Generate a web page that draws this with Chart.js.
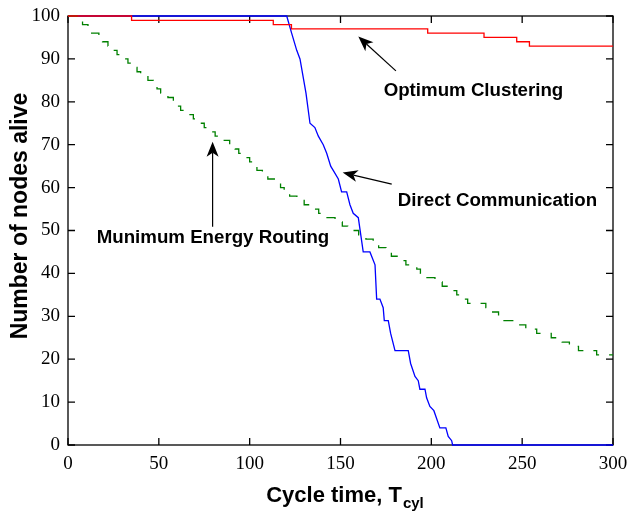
<!DOCTYPE html>
<html>
<head>
<meta charset="utf-8">
<script src="https://cdn.jsdelivr.net/npm/chart.js@4.4.1/dist/chart.umd.min.js"></script>
<style>
  html, body { margin: 0; padding: 0; background: #fff; }
  #wrap { width: 627px; height: 512px; position: relative; }
</style>
</head>
<body>
<div id="wrap"><canvas id="nodes"></canvas></div>
<script>
// tick labels
var xTicks = [0, 50, 100, 150, 200, 250, 300];
var yTicks = [0, 10, 20, 30, 40, 50, 60, 70, 80, 90, 100];

// Optimum Clustering (step: time where count drops, new count)
var redX = [0, 35, 113, 123, 198, 229, 247, 254, 300];
var redY = [100, 99, 98, 97, 96, 95, 94, 93, 93];

// Direct Communication
var blueX = [0, 120.4, 123.1, 125.9, 127.7, 131, 133.2, 135.9, 137.8, 140.5, 142.4, 144.6, 146, 148.8, 150.6, 153.4,
    155.2, 157, 159.8, 162.5, 166.2, 169, 169.9, 171.7, 173.5, 174.1, 176.3, 177.6, 180, 187.3, 188.6, 191,
    192.8, 193.7, 196.5, 197.4, 199.2, 201.4, 204.7, 208, 209.3, 211.2, 211.7, 300];
var blueY = [100, 100, 96, 92, 90, 82, 75, 74, 72, 70, 68, 65, 64, 62, 59, 59,
    56, 54, 53, 45, 45, 42, 34, 34, 32, 29, 29, 26, 22, 22, 19, 16,
    15, 13, 13, 11, 9, 8, 4, 4, 2, 1, 0, 0];

// Munimum Energy Routing (step)
var greenX = [0, 5, 8, 11, 13, 17, 19, 22, 24, 27, 29, 33, 35, 38, 40, 44, 47, 49, 51, 55, 58, 60, 62, 66, 69, 71,
    75, 78, 81, 84, 89, 92, 94, 97, 100, 102, 104, 107, 110, 114, 117, 119, 122, 126, 130, 134, 138, 142,
    147, 151, 154, 160, 164, 168, 171, 175, 178, 182, 186, 192, 194, 197, 202, 206, 210, 214, 216, 220,
    230, 233, 237, 240, 248, 252, 258, 266, 272, 276, 281, 291, 300];
var greenY = [100, 99, 98, 97, 96, 95, 94, 93, 92, 91, 90, 89, 88, 87, 86, 85, 84, 83, 82, 81, 80, 79, 78, 77, 76, 75,
    74, 73, 72, 71, 70, 69, 68, 67, 66, 65, 64, 63, 62, 61, 60, 59, 58, 57, 56, 55, 54, 53,
    52, 51, 50, 49, 48, 47, 46, 45, 44, 43, 42, 41, 40, 39, 38, 37, 36, 35, 34, 33,
    32, 31, 30, 29, 28, 27, 26, 25, 24, 23, 22, 21, 21];

// labels with arrows: text position, arrow tail, arrow tip (data units)
var notes = [
    {text: 'Optimum Clustering', tx: 223.2, ty: 82.6, ax: 180.5, ay: 87.2, bx: 159.8, by: 95.2},
    {text: 'Direct Communication', tx: 236.4, ty: 57.0, ax: 178.2, ay: 60.8, bx: 151.2, by: 63.5},
    {text: 'Munimum Energy Routing', tx: 79.8, ty: 48.4, ax: 79.6, ay: 50.9, bx: 79.6, by: 70.7}
];

function toPoints(xs, ys) {
    var pts = [];
    for (var i = 0; i < xs.length; i++) {
        pts.push({x: xs[i], y: ys[i]});
    }
    return pts;
}

function drawArrow(ctx, x1, y1, x2, y2) {
    var ang = Math.atan2(y2 - y1, x2 - x1);
    var len = 15, half = 6, notch = 11;
    ctx.save();
    ctx.strokeStyle = '#000';
    ctx.fillStyle = '#000';
    ctx.lineWidth = 1.2;
    ctx.beginPath();
    ctx.moveTo(x1, y1);
    ctx.lineTo(x2 - Math.cos(ang) * notch, y2 - Math.sin(ang) * notch);
    ctx.stroke();
    ctx.translate(x2, y2);
    ctx.rotate(ang);
    ctx.beginPath();
    ctx.moveTo(0, 0);
    ctx.lineTo(-len, -half);
    ctx.lineTo(-notch, 0);
    ctx.lineTo(-len, half);
    ctx.closePath();
    ctx.fill();
    ctx.restore();
}

// frame + inward ticks on all four sides, under the lines
var framePlugin = {
    id: 'frame',
    beforeDatasetsDraw: function (chart) {
        var ctx = chart.ctx, a = chart.chartArea;
        var xs = chart.scales.x, ys = chart.scales.y;
        var tl = 7;
        ctx.save();
        ctx.strokeStyle = '#000';
        ctx.lineWidth = 1.3;
        ctx.strokeRect(a.left, a.top, a.right - a.left, a.bottom - a.top);
        ctx.beginPath();
        xTicks.forEach(function (v) {
            var px = xs.getPixelForValue(v);
            ctx.moveTo(px, a.bottom); ctx.lineTo(px, a.bottom - tl);
            ctx.moveTo(px, a.top); ctx.lineTo(px, a.top + tl);
        });
        yTicks.forEach(function (v) {
            var py = ys.getPixelForValue(v);
            ctx.moveTo(a.left, py); ctx.lineTo(a.left + tl, py);
            ctx.moveTo(a.right, py); ctx.lineTo(a.right - tl, py);
        });
        ctx.stroke();
        ctx.restore();
    },
    afterDraw: function (chart) {
        var ctx = chart.ctx, a = chart.chartArea;
        var xs = chart.scales.x, ys = chart.scales.y;
        ctx.save();
        ctx.fillStyle = '#000';
        ctx.textBaseline = 'middle';
        ctx.textAlign = 'center';
        ctx.font = 'bold 18.7px "Liberation Sans", Arial, sans-serif';
        notes.forEach(function (n) {
            ctx.fillText(n.text, xs.getPixelForValue(n.tx), ys.getPixelForValue(n.ty));
            drawArrow(ctx, xs.getPixelForValue(n.ax), ys.getPixelForValue(n.ay),
                xs.getPixelForValue(n.bx), ys.getPixelForValue(n.by));
        });

        // x title with subscript
        var main = 'Cycle time, T', sub = 'cyl';
        ctx.font = 'bold 22px "Liberation Sans", Arial, sans-serif';
        var w1 = ctx.measureText(main).width;
        ctx.font = 'bold 15px "Liberation Sans", Arial, sans-serif';
        var w2 = ctx.measureText(sub).width;
        var x0 = (a.left + a.right) / 2 - (w1 + w2) / 2 + 4;
        var base = 502;
        ctx.textAlign = 'left';
        ctx.textBaseline = 'alphabetic';
        ctx.font = 'bold 22px "Liberation Sans", Arial, sans-serif';
        ctx.fillText(main, x0, base);
        ctx.font = 'bold 15px "Liberation Sans", Arial, sans-serif';
        ctx.fillText(sub, x0 + w1 + 1, base + 6);

        // y title
        ctx.translate(21, 216);
        ctx.rotate(-Math.PI / 2);
        ctx.textAlign = 'center';
        ctx.textBaseline = 'middle';
        ctx.font = 'bold 23px "Liberation Sans", Arial, sans-serif';
        ctx.fillText('Number of nodes alive', 0, 0);
        ctx.restore();
    }
};

var lineChart = new Chart(document.getElementById('nodes').getContext('2d'), {
    type: 'line',
    data: {
        datasets: [
            {
                label: 'Optimum Clustering',
                data: toPoints(redX, redY),
                borderColor: '#ff0000',
                borderWidth: 1.3,
                stepped: true,
                pointRadius: 0,
                fill: false,
                clip: false
            },
            {
                label: 'Munimum Energy Routing',
                data: toPoints(greenX, greenY),
                borderColor: '#008000',
                borderWidth: 1.3,
                borderDash: [10, 10],
                stepped: true,
                pointRadius: 0,
                fill: false,
                clip: false
            },
            {
                label: 'Direct Communication',
                data: toPoints(blueX, blueY),
                borderColor: '#0000ff',
                borderWidth: 1.3,
                tension: 0,
                pointRadius: 0,
                fill: false,
                clip: false
            }
        ]
    },
    options: {
        responsive: true,
        maintainAspectRatio: false,
        animation: false,
        events: [],
        layout: {padding: {left: 0, right: 14, top: 16, bottom: 0}},
        plugins: {
            legend: {display: false},
            tooltip: {enabled: false}
        },
        scales: {
            x: {
                type: 'linear',
                min: 0,
                max: 300,
                afterFit: function (scale) {
                    scale.height = 67;
                    scale.paddingLeft = 0;
                    scale.paddingRight = 0;
                },
                afterBuildTicks: function (scale) {
                    scale.ticks = xTicks.map(function (v) { return {value: v}; });
                },
                grid: {display: false, drawTicks: false},
                border: {display: false},
                ticks: {
                    padding: 8,
                    color: '#000',
                    maxRotation: 0,
                    font: {family: '"Liberation Serif", "Times New Roman", serif', size: 19}
                }
            },
            y: {
                type: 'linear',
                min: 0,
                max: 100,
                afterFit: function (scale) {
                    scale.width = 68;
                    scale.paddingTop = 0;
                    scale.paddingBottom = 0;
                },
                afterBuildTicks: function (scale) {
                    scale.ticks = yTicks.map(function (v) { return {value: v}; });
                },
                grid: {display: false, drawTicks: false},
                border: {display: false},
                ticks: {
                    padding: 8,
                    color: '#000',
                    font: {family: '"Liberation Serif", "Times New Roman", serif', size: 19}
                }
            }
        }
    },
    plugins: [framePlugin]
});
</script>
</body>
</html>
